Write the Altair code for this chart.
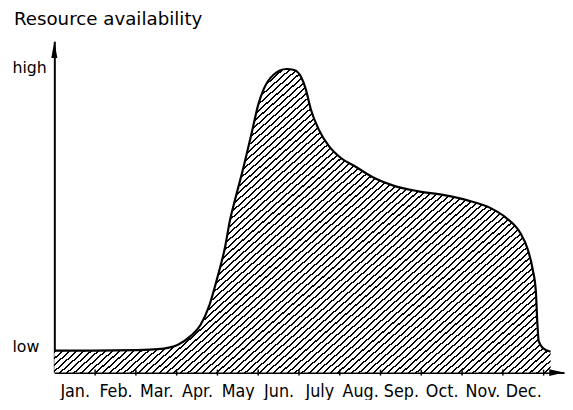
import math
import altair as alt
import pandas as pd

# ---------------- data ----------------
months = ["Jan.", "Feb.", "Mar.", "Apr.", "May", "Jun.", "July",
          "Aug.", "Sep.", "Oct.", "Nov.", "Dec."]
month_bounds = [1, 2, 3, 4, 5, 6, 7, 8, 9, 10, 11, 12]

# curve: position in months (0 = start of Jan.) and resource level (arbitrary units)
curve_month = [0.0, 1.0, 2.0, 2.54, 3.02, 3.34, 3.58, 3.80, 3.99, 4.19, 4.31,
               4.43, 4.65, 4.84, 5.01, 5.13, 5.37, 5.69, 5.88, 6.05, 6.17,
               6.29, 6.48, 6.73, 7.02, 7.38, 7.86, 8.35, 8.90, 9.56, 10.11,
               10.69, 11.08, 11.42, 11.61, 11.73, 11.81, 11.84, 11.88, 11.98,
               12.17]
curve_level = [0.93, 0.93, 0.95, 0.99, 1.17, 1.54, 2.0, 2.83, 3.96, 5.33, 6.46,
               7.29, 8.75, 10.13, 11.38, 11.96, 12.58, 12.83, 12.79, 12.5, 11.96,
               11.13, 10.29, 9.58, 9.08, 8.71, 8.21, 7.88, 7.67, 7.5, 7.29,
               6.96, 6.54, 5.92, 5.21, 4.38, 3.42, 2.29, 1.33, 1.04, 0.88]

level_ticks = [0.875, 12.7]
level_labels = ["low", "high"]

X_MAX = 12.5
Y_MAX = 14.0
PLOT_W = 517
PLOT_H = 336

curve = pd.DataFrame({"m": curve_month, "v": curve_level})
ticks = pd.DataFrame({"m": month_bounds,
                      "v": [-0.125] * len(month_bounds),
                      "v2": [0.125] * len(month_bounds)})
y_tip = pd.DataFrame({"m": [0.0], "v": [Y_MAX]})
x_tip = pd.DataFrame({"m": [X_MAX], "v": [0.0]})

# ---------------- hatch fill (striped linear gradient) ----------------
W = (max(curve_month) - min(curve_month)) * PLOT_W / X_MAX
H = max(curve_level) * PLOT_H / Y_MAX
slope = 0.9          # hatch lines rise to the right
h_spacing = 7.2      # horizontal distance between hatch lines (px)
line_frac = 0.3
k = (slope * W + H) / (slope ** 2 * W ** 2 + H ** 2)
gx2, gy2 = slope * W * k, H * k
D = (slope * W + H) / math.sqrt(1 + slope ** 2)
period = slope * h_spacing / math.sqrt(1 + slope ** 2)
N = int(round(D / period))
stops = []
for i in range(N):
    p0 = i / N
    p1 = (i + line_frac) / N
    p2 = (i + 1) / N
    stops += [alt.GradientStop(offset=round(p0, 6), color="black"),
              alt.GradientStop(offset=round(p1, 6), color="black"),
              alt.GradientStop(offset=round(p1, 6), color="white"),
              alt.GradientStop(offset=round(p2, 6), color="white")]
hatch = alt.Gradient(gradient="linear", stops=stops,
                     x1=0, y1=0, x2=round(gx2, 5), y2=round(gy2, 5))

LABEL_FONT = "DejaVu Sans"
MONTH_FONT = "DejaVu Sans Condensed, DejaVu Sans"

month_expr = "[" + ",".join("'%s'" % s for s in months) + "][floor(datum.value)]"
level_expr = "datum.value < 5 ? '%s' : '%s'" % (level_labels[0], level_labels[1])

x_enc = alt.X("m:Q", title=None,
              scale=alt.Scale(domain=[0, X_MAX], nice=False, zero=False),
              axis=alt.Axis(values=[i + 0.5 for i in range(12)],
                            labelExpr=month_expr, ticks=False, grid=False,
                            labelFont=MONTH_FONT, labelFontSize=18,
                            labelBaseline="alphabetic", labelPadding=24,
                            labelFlush=False, labelOverlap=False,
                            domainColor="black", domainWidth=2,
                            labelColor="black"))
y_enc = alt.Y("v:Q", title=None,
              scale=alt.Scale(domain=[0, Y_MAX], nice=False),
              axis=alt.Axis(values=level_ticks, labelExpr=level_expr,
                            ticks=False, grid=False, labelFont=LABEL_FONT,
                            labelFontSize=16, labelAlign="left",
                            labelBaseline="alphabetic", labelPadding=43,
                            labelFlush=False, labelOverlap=False,
                            domainColor="black", domainWidth=2,
                            labelColor="black"))

area = alt.Chart(curve).mark_area(
    fill=hatch, opacity=1, strokeWidth=0, interpolate="monotone"
).encode(x=x_enc, y=y_enc)

outline = alt.Chart(curve).mark_line(
    color="black", strokeWidth=2.2, interpolate="monotone"
).encode(x=alt.X("m:Q", title=None), y=alt.Y("v:Q", title=None))

tick_rules = alt.Chart(ticks).mark_rule(color="black", strokeWidth=1.5).encode(
    x=alt.X("m:Q", title=None), y=alt.Y("v:Q", title=None), y2="v2:Q")

y_arrow = alt.Chart(y_tip).mark_point(
    shape="M0,0L0.36,2L-0.36,2Z", size=289, filled=True, color="black",
    opacity=1, strokeWidth=0
).encode(x=alt.X("m:Q", title=None), y=alt.Y("v:Q", title=None))

x_arrow = alt.Chart(x_tip).mark_point(
    shape="M0,0L-2,-0.45L-2,0.45Z", size=225, filled=True, color="black",
    opacity=1, strokeWidth=0
).encode(x=alt.X("m:Q", title=None), y=alt.Y("v:Q", title=None))

chart = alt.layer(area, outline, tick_rules, y_arrow, x_arrow).properties(
    width=PLOT_W, height=PLOT_H,
    autosize=alt.AutoSizeParams(type="none"),
    padding={"left": 47, "top": 31, "right": 1, "bottom": 25},
    background="white",
    title=alt.TitleParams("Resource availability", anchor="start",
                          frame="group", dx=-41, offset=-2,
                          baseline="alphabetic", font=LABEL_FONT,
                          fontSize=18.5, fontWeight="normal", color="black"),
).configure_view(strokeWidth=0, stroke=None)

chart.save("out.html", embed_options={"renderer": "svg", "actions": False})
